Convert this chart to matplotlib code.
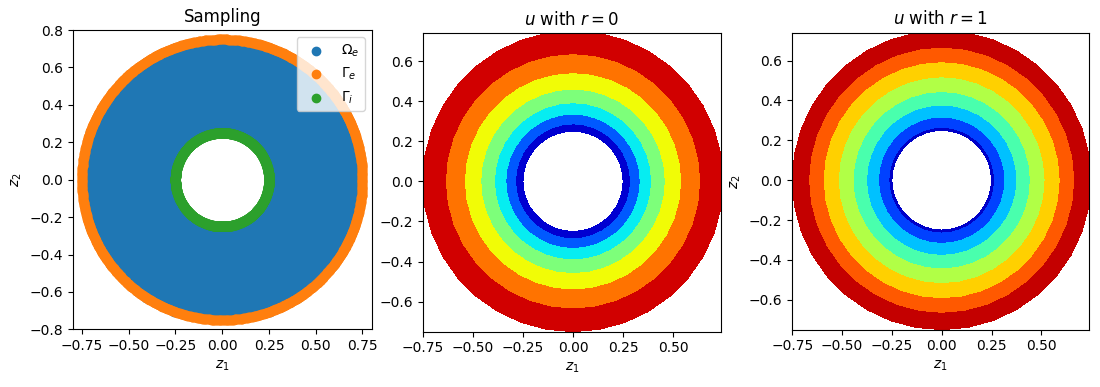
import numpy as np
import matplotlib
matplotlib.use('Agg')
import matplotlib.pyplot as plt
import matplotlib.tri as mtri

# annulus geometry
r_inner = 0.25
r_outer = 0.75

# radii where the colour bands change (inner -> outer)
bands_r0 = [0.25, 0.286, 0.335, 0.392, 0.460, 0.542, 0.637, 0.75]
bands_r1 = [0.25, 0.262, 0.317, 0.377, 0.445, 0.519, 0.595, 0.668, 0.75]

titles = ['Sampling', '$u$ with $r=0$', '$u$ with $r=1$']
legend_labels = [r'$\Omega_e$', r'$\Gamma_e$', r'$\Gamma_i$']


# sampling points: regular grid inside the annulus + points on both circles
g = np.arange(-0.75, 0.7501, 0.015)
gx, gy = np.meshgrid(g, g)
gr = np.hypot(gx, gy)
inside = (gr > r_inner) & (gr < r_outer)
x_dom, y_dom = gx[inside], gy[inside]

th_b = np.linspace(0, 2 * np.pi, 1000, endpoint=False)
x_ext, y_ext = r_outer * np.cos(th_b), r_outer * np.sin(th_b)
x_int, y_int = r_inner * np.cos(th_b), r_inner * np.sin(th_b)


# coarse polar mesh used for the solution plots
n_r, n_th = 50, 36
rr = np.linspace(r_inner, r_outer, n_r)
tt = np.linspace(0, 2 * np.pi, n_th, endpoint=False)
R, T = np.meshgrid(rr, tt, indexing='ij')
mx = (R * np.cos(T)).ravel()
my = (R * np.sin(T)).ravel()
mr = R.ravel()

tris = []
for i in range(n_r - 1):
    for j in range(n_th):
        a = i * n_th + j
        b = i * n_th + (j + 1) % n_th
        c = (i + 1) * n_th + j
        d = (i + 1) * n_th + (j + 1) % n_th
        tris.append([a, b, d])
        tris.append([a, d, c])
triang = mtri.Triangulation(mx, my, np.array(tris))


fig = plt.figure(figsize=(11, 3.87), dpi=100)

ax1 = fig.add_axes([0.0655, 0.149, 0.273, 0.7734])
ax1.scatter(x_dom, y_dom, s=36, label=legend_labels[0])
ax1.scatter(x_ext, y_ext, s=36, label=legend_labels[1])
ax1.scatter(x_int, y_int, s=36, label=legend_labels[2])
ax1.set_xlim(-0.8, 0.8)
ax1.set_ylim(-0.8, 0.8)
ax1.set_aspect('equal')
ax1.set_title(titles[0])
ax1.set_xlabel('$z_1$')
ax1.set_ylabel('$z_2$')
ax1.legend(loc='upper right')


def plot_u(ax, bands, title, ylabel):
    levels = np.arange(len(bands))
    u = np.interp(mr, bands, levels)
    ax.tricontourf(triang, u, levels=levels, cmap='jet',
                   vmin=levels[0], vmax=levels[-1])
    ax.set_xlim(-0.7502, 0.74)
    ax.set_ylim(-0.7502, 0.74)
    ax.set_aspect('equal')
    ax.set_title(title)
    ax.set_xlabel('$z_1$')
    if ylabel:
        ax.set_ylabel('$z_2$')


ax2 = fig.add_axes([0.3839, 0.1429, 0.2722, 0.7718])
plot_u(ax2, bands_r0, titles[1], False)

ax3 = fig.add_axes([0.72, 0.148, 0.2703, 0.7674])
plot_u(ax3, bands_r1, titles[2], True)

fig.savefig('out.png', dpi=100)
